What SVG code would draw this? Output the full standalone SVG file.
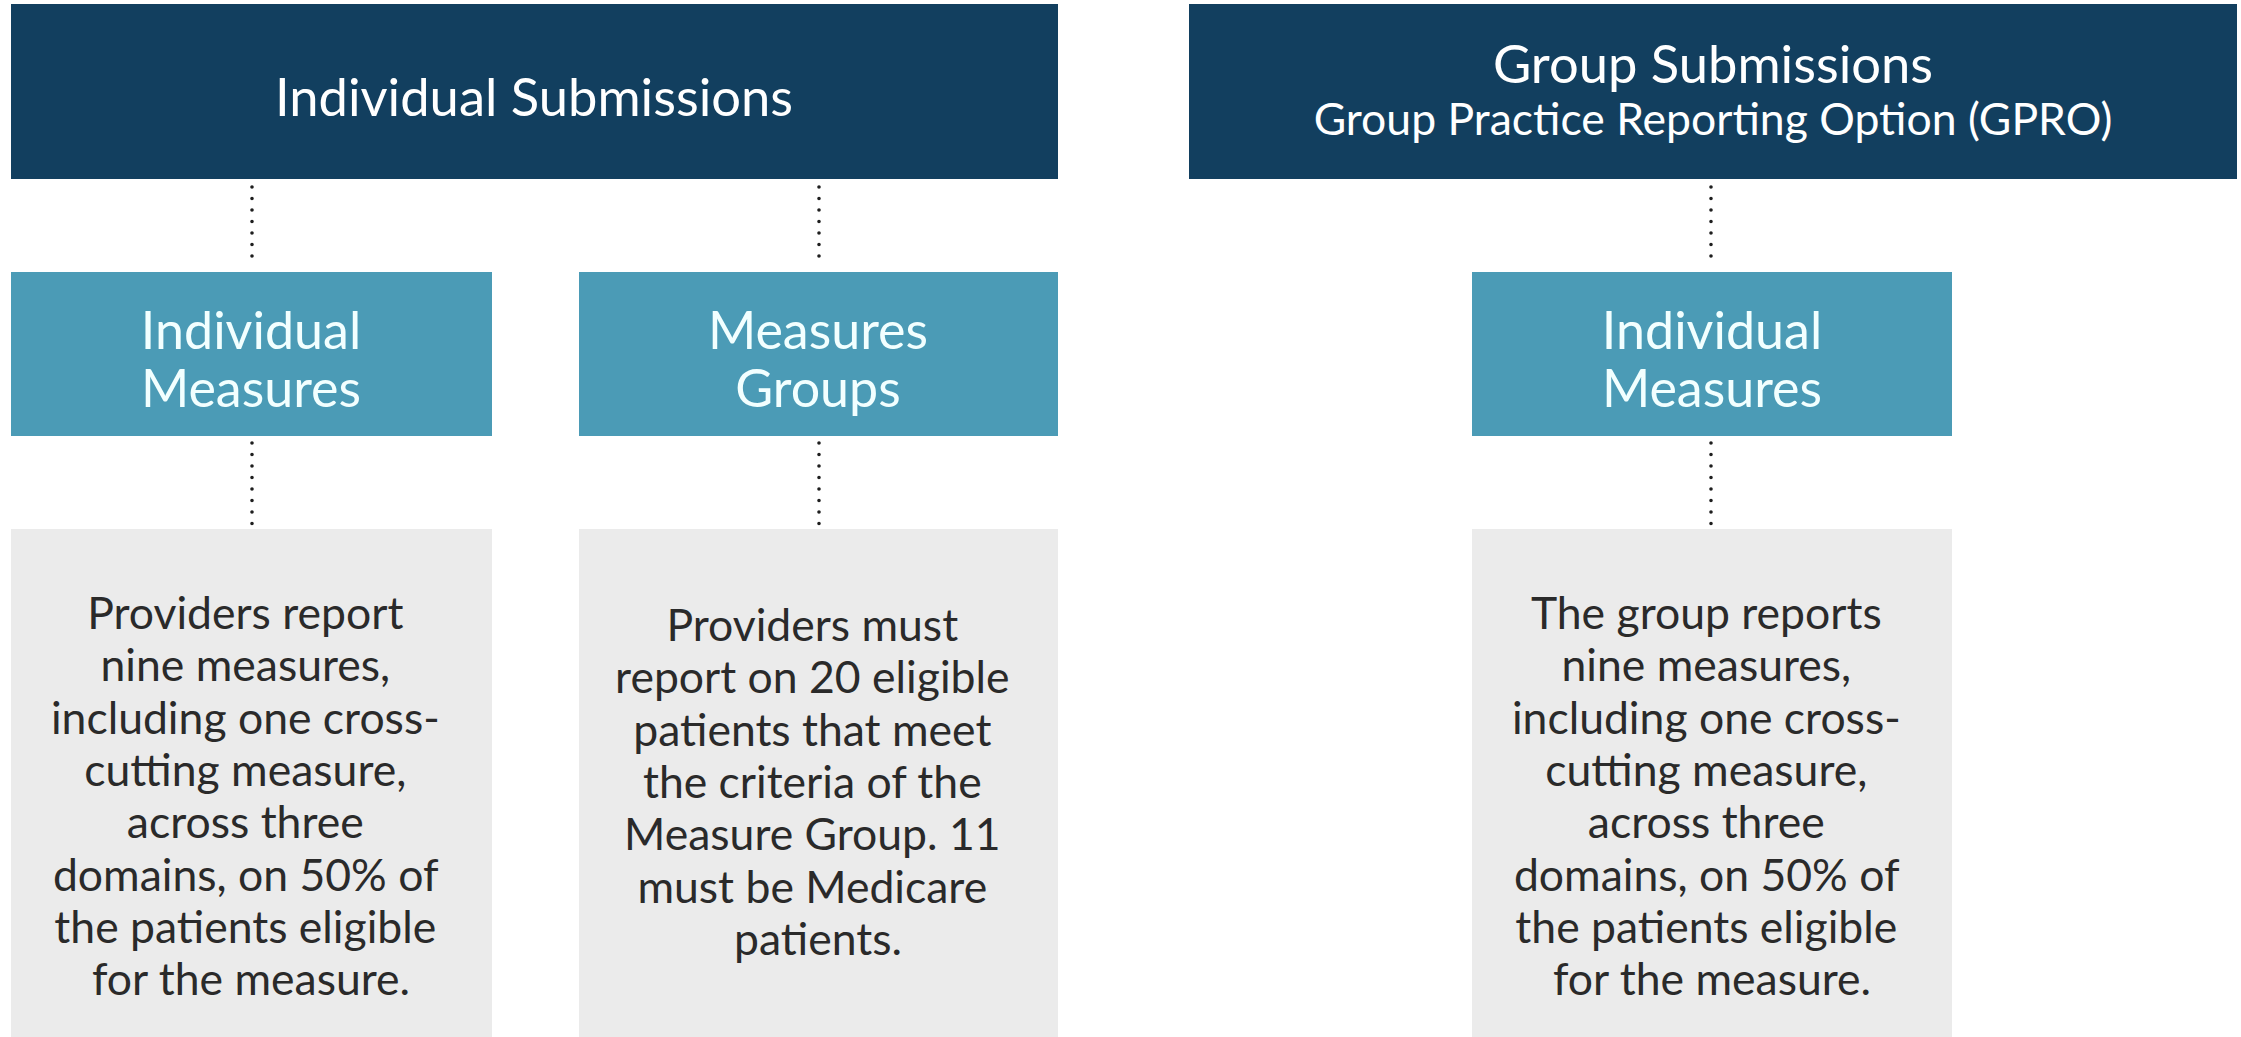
<svg xmlns="http://www.w3.org/2000/svg" width="2241" height="1037" viewBox="0 0 2241 1037">
  <style>
    .hdr { fill: #123f5f; }
    .mid { fill: #4b9bb6; }
    .desc { fill: #ebebeb; }
    text { font-family: Lato, "Open Sans", sans-serif; text-anchor: middle; }
    .t-hdr { fill: #ffffff; font-size: 52.5px; }
    .t-sub { fill: #ffffff; font-size: 44.5px; }
    .t-mid { fill: #f2ffff; font-size: 52px; }
    .t-desc { fill: #2a2a2a; font-size: 44.5px; }
    .dots { stroke: #1e1e1e; stroke-width: 3.6; stroke-linecap: round; stroke-dasharray: 0 11.5; fill: none; }
  </style>
  <rect width="2241" height="1037" fill="#ffffff"/>

  <g id="connectors">
    <line class="dots" x1="252" y1="187" x2="252" y2="266"/>
    <line class="dots" x1="819" y1="187" x2="819" y2="266"/>
    <line class="dots" x1="1711" y1="187" x2="1711" y2="266"/>
    <line class="dots" x1="252" y1="443" x2="252" y2="524"/>
    <line class="dots" x1="819" y1="443" x2="819" y2="524"/>
    <line class="dots" x1="1711" y1="443" x2="1711" y2="524"/>
  </g>

  <g id="individual-submissions">
    <rect class="hdr" x="11" y="4" width="1047" height="175"/>
    <text class="t-hdr" x="534" y="116">Individual Submissions</text>
  </g>

  <g id="group-submissions">
    <rect class="hdr" x="1189" y="4" width="1048" height="175"/>
    <text class="t-hdr" x="1713" y="83">Group Submissions</text>
    <text class="t-sub" x="1713" y="135">Group Practice Reporting Option (GPRO)</text>
  </g>

  <g id="individual-measures">
    <rect class="mid" x="11" y="272" width="481" height="164"/>
    <text class="t-mid" x="251" y="349">Individual</text>
    <text class="t-mid" x="251" y="407">Measures</text>
  </g>

  <g id="measures-groups">
    <rect class="mid" x="579" y="272" width="479" height="164"/>
    <text class="t-mid" x="818" y="349">Measures</text>
    <text class="t-mid" x="818" y="407">Groups</text>
  </g>

  <g id="gpro-individual-measures">
    <rect class="mid" x="1472" y="272" width="480" height="164"/>
    <text class="t-mid" x="1712" y="349">Individual</text>
    <text class="t-mid" x="1712" y="407">Measures</text>
  </g>

  <g id="individual-measures-desc">
    <rect class="desc" x="11" y="529" width="481" height="508"/>
    <text class="t-desc" x="251" y="629">
      <tspan x="251">Providers report</tspan>
      <tspan x="251" dy="52.3">nine measures,</tspan>
      <tspan x="251" dy="52.3">including one cross-</tspan>
      <tspan x="251" dy="52.3">cutting measure,</tspan>
      <tspan x="251" dy="52.3">across three</tspan>
      <tspan x="251" dy="52.3">domains, on 50% of</tspan>
      <tspan x="251" dy="52.3">the patients eligible</tspan>
      <tspan x="251" dy="52.3">for the measure.</tspan>
    </text>
  </g>

  <g id="measures-groups-desc">
    <rect class="desc" x="579" y="529" width="479" height="508"/>
    <text class="t-desc" x="818" y="641">
      <tspan x="818">Providers must</tspan>
      <tspan x="818" dy="52.3">report on 20 eligible</tspan>
      <tspan x="818" dy="52.3">patients that meet</tspan>
      <tspan x="818" dy="52.3">the criteria of the</tspan>
      <tspan x="818" dy="52.3">Measure Group. 11</tspan>
      <tspan x="818" dy="52.3">must be Medicare</tspan>
      <tspan x="818" dy="52.3">patients.</tspan>
    </text>
  </g>

  <g id="gpro-individual-measures-desc">
    <rect class="desc" x="1472" y="529" width="480" height="508"/>
    <text class="t-desc" x="1712" y="629">
      <tspan x="1712">The group reports</tspan>
      <tspan x="1712" dy="52.3">nine measures,</tspan>
      <tspan x="1712" dy="52.3">including one cross-</tspan>
      <tspan x="1712" dy="52.3">cutting measure,</tspan>
      <tspan x="1712" dy="52.3">across three</tspan>
      <tspan x="1712" dy="52.3">domains, on 50% of</tspan>
      <tspan x="1712" dy="52.3">the patients eligible</tspan>
      <tspan x="1712" dy="52.3">for the measure.</tspan>
    </text>
  </g>
</svg>
